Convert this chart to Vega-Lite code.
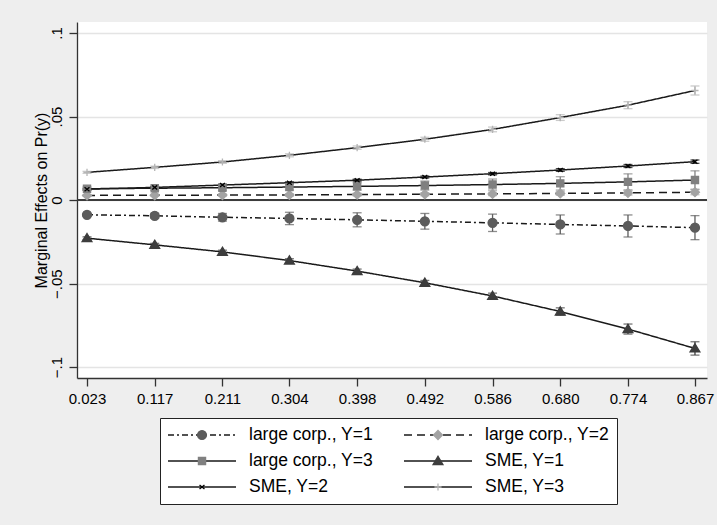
{
 "$schema": "https://vega.github.io/schema/vega-lite/v6.json",
 "width": 630,
 "height": 356,
 "autosize": {"type": "none"},
 "padding": {"left": 77, "top": 22, "right": 10, "bottom": 147},
 "background": "#eeeeee",
 "config": {
  "view": {"fill": "white", "stroke": null},
  "font": "Liberation Sans",
  "axis": {"labelFont": "Liberation Sans", "titleFont": "Liberation Sans"},
  "legend": {"labelFont": "Liberation Sans", "titleFont": "Liberation Sans"}
 },
 "data": {"values": [
  {"s":"large corp., Y=1","x":0.023,"y":-0.0088,"lo":-0.0096,"hi":-0.0080},
  {"s":"large corp., Y=1","x":0.117,"y":-0.0094,"lo":-0.0109,"hi":-0.0079},
  {"s":"large corp., Y=1","x":0.211,"y":-0.0103,"lo":-0.0126,"hi":-0.0080},
  {"s":"large corp., Y=1","x":0.304,"y":-0.0110,"lo":-0.0147,"hi":-0.0073},
  {"s":"large corp., Y=1","x":0.398,"y":-0.0118,"lo":-0.0160,"hi":-0.0076},
  {"s":"large corp., Y=1","x":0.492,"y":-0.0127,"lo":-0.0174,"hi":-0.0080},
  {"s":"large corp., Y=1","x":0.586,"y":-0.0136,"lo":-0.0188,"hi":-0.0084},
  {"s":"large corp., Y=1","x":0.680,"y":-0.0146,"lo":-0.0203,"hi":-0.0089},
  {"s":"large corp., Y=1","x":0.774,"y":-0.0155,"lo":-0.0221,"hi":-0.0089},
  {"s":"large corp., Y=1","x":0.867,"y":-0.0165,"lo":-0.0237,"hi":-0.0093},
  {"s":"large corp., Y=2","x":0.023,"y":0.0028,"lo":0.0024,"hi":0.0032},
  {"s":"large corp., Y=2","x":0.117,"y":0.0029,"lo":0.0024,"hi":0.0034},
  {"s":"large corp., Y=2","x":0.211,"y":0.0030,"lo":0.0024,"hi":0.0036},
  {"s":"large corp., Y=2","x":0.304,"y":0.0031,"lo":0.0024,"hi":0.0038},
  {"s":"large corp., Y=2","x":0.398,"y":0.0033,"lo":0.0025,"hi":0.0041},
  {"s":"large corp., Y=2","x":0.492,"y":0.0035,"lo":0.0026,"hi":0.0044},
  {"s":"large corp., Y=2","x":0.586,"y":0.0037,"lo":0.0027,"hi":0.0047},
  {"s":"large corp., Y=2","x":0.680,"y":0.0040,"lo":0.0029,"hi":0.0051},
  {"s":"large corp., Y=2","x":0.774,"y":0.0043,"lo":0.0030,"hi":0.0056},
  {"s":"large corp., Y=2","x":0.867,"y":0.0047,"lo":0.0032,"hi":0.0062},
  {"s":"large corp., Y=3","x":0.023,"y":0.0068,"lo":0.0058,"hi":0.0078},
  {"s":"large corp., Y=3","x":0.117,"y":0.0071,"lo":0.0059,"hi":0.0083},
  {"s":"large corp., Y=3","x":0.211,"y":0.0074,"lo":0.0059,"hi":0.0089},
  {"s":"large corp., Y=3","x":0.304,"y":0.0078,"lo":0.0060,"hi":0.0096},
  {"s":"large corp., Y=3","x":0.398,"y":0.0082,"lo":0.0060,"hi":0.0104},
  {"s":"large corp., Y=3","x":0.492,"y":0.0087,"lo":0.0060,"hi":0.0114},
  {"s":"large corp., Y=3","x":0.586,"y":0.0093,"lo":0.0060,"hi":0.0126},
  {"s":"large corp., Y=3","x":0.680,"y":0.0100,"lo":0.0060,"hi":0.0140},
  {"s":"large corp., Y=3","x":0.774,"y":0.0109,"lo":0.0061,"hi":0.0157},
  {"s":"large corp., Y=3","x":0.867,"y":0.0120,"lo":0.0065,"hi":0.0175},
  {"s":"SME, Y=1","x":0.023,"y":-0.0228,"lo":-0.0236,"hi":-0.0220},
  {"s":"SME, Y=1","x":0.117,"y":-0.0268,"lo":-0.0277,"hi":-0.0259},
  {"s":"SME, Y=1","x":0.211,"y":-0.0310,"lo":-0.0320,"hi":-0.0300},
  {"s":"SME, Y=1","x":0.304,"y":-0.0362,"lo":-0.0373,"hi":-0.0351},
  {"s":"SME, Y=1","x":0.398,"y":-0.0425,"lo":-0.0437,"hi":-0.0413},
  {"s":"SME, Y=1","x":0.492,"y":-0.0495,"lo":-0.0509,"hi":-0.0481},
  {"s":"SME, Y=1","x":0.586,"y":-0.0574,"lo":-0.0591,"hi":-0.0557},
  {"s":"SME, Y=1","x":0.680,"y":-0.0667,"lo":-0.0689,"hi":-0.0645},
  {"s":"SME, Y=1","x":0.774,"y":-0.0772,"lo":-0.0802,"hi":-0.0742},
  {"s":"SME, Y=1","x":0.867,"y":-0.0888,"lo":-0.0928,"hi":-0.0848},
  {"s":"SME, Y=2","x":0.023,"y":0.0065,"lo":0.0061,"hi":0.0069},
  {"s":"SME, Y=2","x":0.117,"y":0.0076,"lo":0.0072,"hi":0.0080},
  {"s":"SME, Y=2","x":0.211,"y":0.0090,"lo":0.0085,"hi":0.0095},
  {"s":"SME, Y=2","x":0.304,"y":0.0104,"lo":0.0099,"hi":0.0109},
  {"s":"SME, Y=2","x":0.398,"y":0.0119,"lo":0.0113,"hi":0.0125},
  {"s":"SME, Y=2","x":0.492,"y":0.0138,"lo":0.0132,"hi":0.0144},
  {"s":"SME, Y=2","x":0.586,"y":0.0158,"lo":0.0151,"hi":0.0165},
  {"s":"SME, Y=2","x":0.680,"y":0.0180,"lo":0.0172,"hi":0.0188},
  {"s":"SME, Y=2","x":0.774,"y":0.0204,"lo":0.0195,"hi":0.0213},
  {"s":"SME, Y=2","x":0.867,"y":0.0230,"lo":0.0220,"hi":0.0240},
  {"s":"SME, Y=3","x":0.023,"y":0.0166,"lo":0.0160,"hi":0.0172},
  {"s":"SME, Y=3","x":0.117,"y":0.0196,"lo":0.0189,"hi":0.0203},
  {"s":"SME, Y=3","x":0.211,"y":0.0228,"lo":0.0220,"hi":0.0236},
  {"s":"SME, Y=3","x":0.304,"y":0.0268,"lo":0.0259,"hi":0.0277},
  {"s":"SME, Y=3","x":0.398,"y":0.0314,"lo":0.0304,"hi":0.0324},
  {"s":"SME, Y=3","x":0.492,"y":0.0364,"lo":0.0352,"hi":0.0376},
  {"s":"SME, Y=3","x":0.586,"y":0.0423,"lo":0.0409,"hi":0.0437},
  {"s":"SME, Y=3","x":0.680,"y":0.0494,"lo":0.0477,"hi":0.0511},
  {"s":"SME, Y=3","x":0.774,"y":0.0568,"lo":0.0547,"hi":0.0589},
  {"s":"SME, Y=3","x":0.867,"y":0.0656,"lo":0.0629,"hi":0.0683}
 ]},
 "layer": [
  {
   "mark": {"type": "line", "color": "#1a1a1a", "strokeWidth": 1.5},
   "encoding": {
    "x": {"field": "x", "type": "quantitative", "title": null, "scale": {"domain": [0.0091, 0.8837], "nice": false, "zero": false},
      "axis": {"values": [0.023,0.117,0.211,0.304,0.398,0.492,0.586,0.680,0.774,0.867], "format": ".3f", "labelFont": "Liberation Sans", "labelFontSize": 15, "labelColor": "black", "labelPadding": 5, "tickSize": 8, "tickColor": "#333333", "tickWidth": 1.3, "domainColor": "#333333", "domainWidth": 1.3, "grid": false, "title": null}},
    "y": {"field": "y", "type": "quantitative", "title": "Marginal Effects on Pr(y)", "scale": {"domain": [-0.1065, 0.1066], "nice": false, "zero": false},
      "axis": {"values": [-0.1,-0.05,0,0.05,0.1], "labelExpr": "datum.value == 0 ? '0' : replace(format(datum.value, '.2~f'), '0.', '.')", "labelAngle": -90, "labelFont": "Liberation Sans", "labelFontSize": 15, "labelColor": "black", "labelPadding": 5, "tickSize": 8, "tickColor": "#333333", "tickWidth": 1.3, "domainColor": "#333333", "domainWidth": 1.3, "grid": true, "gridColor": "#e4e4e4", "gridWidth": 1.3, "title": "Marginal Effects on Pr(y)", "titleFont": "Liberation Sans", "titleFontSize": 16, "titleFontWeight": "normal", "titleColor": "black", "titlePadding": 0}},
    "strokeDash": {"field": "s", "type": "nominal",
      "scale": {"domain": ["large corp., Y=1","large corp., Y=2","large corp., Y=3","SME, Y=1","SME, Y=2","SME, Y=3"], "range": [[6,3,2,3],[8,5],[1,0],[1,0],[1,0],[1,0]]},
      "legend": {"orient": "none", "legendX": 83, "legendY": 396, "direction": "horizontal", "columns": 2, "columnPadding": 29, "rowPadding": 6, "symbolSize": 4624, "clipHeight": 20, "labelFont": "Liberation Sans", "labelFontSize": 17.5, "labelOffset": 12, "labelColor": "black", "labelLimit": 300, "title": null, "padding": 7, "symbolStrokeWidth": 1.5, "symbolStrokeColor": "#1a1a1a", "strokeColor": "#222222", "fillColor": "white", "zindex": 1}}
   }
  },
  {
   "mark": {"type": "rule", "color": "#3c3c3c", "strokeWidth": 1.5},
   "encoding": {"y": {"datum": 0, "type": "quantitative"}}
  },
  {
   "mark": {"type": "errorbar", "ticks": {"size": 9}, "thickness": 1.3},
   "encoding": {
    "x": {"field": "x", "type": "quantitative", "title": null},
    "y": {"field": "lo", "type": "quantitative", "title": "Marginal Effects on Pr(y)"},
    "y2": {"field": "hi"},
    "color": {"field": "s", "type": "nominal",
      "sort": ["large corp., Y=1","large corp., Y=2","large corp., Y=3","SME, Y=1","SME, Y=2","SME, Y=3"],
      "scale": {"range": ["#5c5c5c","#a3a3a3","#808080","#3d3d3d","#000000","#b5b5b5"]}, "legend": null}
   }
  },
  {
   "mark": {"type": "point", "filled": true, "opacity": 1, "strokeWidth": 1.3, "size": 80},
   "encoding": {
    "x": {"field": "x", "type": "quantitative", "title": null},
    "y": {"field": "y", "type": "quantitative", "title": "Marginal Effects on Pr(y)"},
    "shape": {"field": "s", "type": "nominal",
      "sort": ["large corp., Y=1","large corp., Y=2","large corp., Y=3","SME, Y=1","SME, Y=2","SME, Y=3"],
      "scale": {"range": ["circle","diamond","M-0.8,-0.8H0.8V0.8H-0.8Z","M0,-1.05L1.1,0.78H-1.1Z","M-0.55,-0.45L0.55,0.45M-0.55,0.45L0.55,-0.45","M-0.8,0H0.8M0,-0.8V0.8"]},
      "legend": {"orient": "none", "legendX": 83, "legendY": 396, "direction": "horizontal", "columns": 2, "columnPadding": 29, "rowPadding": 6, "symbolSize": 80, "clipHeight": 20, "labelFont": "Liberation Sans", "labelFontSize": 17.5, "labelOffset": 38.25, "symbolOffset": 26.25, "labelOpacity": 0, "labelLimit": 300, "title": null, "padding": 7, "symbolStrokeWidth": 1.3, "zindex": 2,
        "symbolFillColor": {"expr": "scale('color', datum.value)"}, "symbolStrokeColor": {"expr": "scale('stroke', datum.value)"}, "symbolOpacity": 1}},
    "color": {"field": "s", "type": "nominal",
      "sort": ["large corp., Y=1","large corp., Y=2","large corp., Y=3","SME, Y=1","SME, Y=2","SME, Y=3"],
      "scale": {"range": ["#5c5c5c","#a3a3a3","#808080","#3d3d3d","#000000","#b5b5b5"]}, "legend": null},
    "stroke": {"field": "s", "type": "nominal",
      "sort": ["large corp., Y=1","large corp., Y=2","large corp., Y=3","SME, Y=1","SME, Y=2","SME, Y=3"],
      "scale": {"range": ["#5c5c5c","#a3a3a3","#808080","#3d3d3d","#000000","#b5b5b5"]}, "legend": null}
   }
  }
 ]
}
